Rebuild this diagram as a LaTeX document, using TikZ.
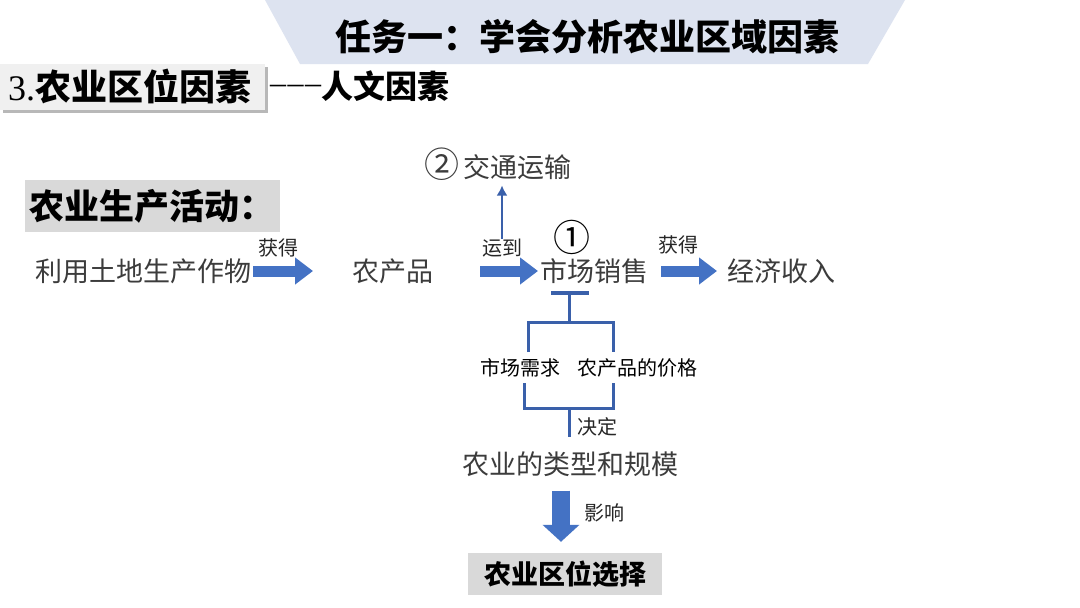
\documentclass[tikz,border=0pt]{standalone}
\usepackage{fontspec}
\setmainfont{Liberation Serif}
\newfontfamily\cjk{Noto Sans CJK SC}
\usetikzlibrary{arrows.meta,positioning}
\definecolor{mlblue}{RGB}{68,114,196}
\definecolor{mlline}{RGB}{58,96,170}
\definecolor{mlband}{RGB}{221,227,240}
\definecolor{mlgrey}{RGB}{217,217,217}
\definecolor{mltext}{RGB}{60,60,60}
\newcommand\fs[1]{\fontsize{#1}{#1}\selectfont}

\begin{document}
\begin{tikzpicture}[x=1pt,y=-1pt,every node/.style={inner sep=0pt},
    txt/.style={font=\cjk\fs{27},text=mltext},
    lbl/.style={font=\cjk\fs{20},text=black!85},
    fat/.style={line width=11pt,mlblue,-{Triangle[width=26pt,length=18pt]}},
    bracket/.style={line width=3pt,mlline}]
    \useasboundingbox[fill=white] (0,0) rectangle (1080,608);
    % title band
    \fill[mlband] (265,0) -- (905,0) -- (868,64) -- (300,64) -- cycle;
    \node[font=\cjk\bfseries\fs{36}] (title) at (587,37) {任务一：学会分析农业区域因素};
    % section heading
    \fill[black!28] (3,67) rectangle (268,113);
    \fill[black!6] (0,64) rectangle (265,110);
    \node[anchor=west,font=\fs{36}] (sec) at (8,86) {3.{\cjk\bfseries 农业区位因素}};
    \node[anchor=west,font=\fs{32}] (sub) at (270,86) {\raisebox{5pt}{\textendash\kern1.5pt\textendash\kern1.5pt\textendash}{\cjk\bfseries 人文因素}};
    \node[fill=mlgrey,minimum width=255pt,minimum height=52pt,font=\cjk\bfseries\fs{35}] (huodong) at (152.5,206) {农业生产活动：};
    % main row
    \node[txt,anchor=west] (zuowu) at (35,271) {利用土地生产作物};
    \node[txt,anchor=west] (ncp) at (352,271) {农产品};
    \node[txt,anchor=west] (xiaoshou) at (540,271) {市场销售};
    \node[txt,anchor=west] (shouru) at (727,271) {经济收入};
    \node[txt,anchor=west] (jiaotong) at (424,164) {{\fs{35}②}\,交通运输};
    \node[font=\cjk\fs{37}] (yi) at (572,237) {①};
    \node[lbl] (huode1) at (278,248) {获得};
    \node[lbl] (yundao) at (502,248) {运到};
    \node[lbl] (huode2) at (678,245) {获得};
    \draw[fat,shorten <=2pt,shorten >=39pt] (zuowu.east) -- (ncp.west);
    \draw[fat,shorten <=47pt,shorten >=2pt] (ncp.east) -- (xiaoshou.west);
    \draw[fat,shorten <=13pt,shorten >=10pt] (xiaoshou.east) -- (shouru.west);
    \draw[line width=2.5pt,mlline,-{Latex[length=10pt,width=11pt]},shorten >=5pt] (yundao.north) -- (yundao.north |- jiaotong.south);
    % market factors
    \node[lbl,text=black] (xuqiu) at (520,368) {市场需求};
    \node[lbl,text=black] (jiage) at (637.5,368) {农产品的价格};
    \draw[bracket,line width=4pt] (551,293) -- (589,293);
    \draw[bracket] (569,293) -- (569,322);
    \draw[bracket] (528,352) |- (613,322) -- (613,352);
    \draw[bracket] (524,383) |- (613,408) -- (613,383);
    \draw[bracket] (569,408) -- (569,437);
    \node[lbl] (jueding) at (597,427) {决定};
    \node[txt] (leixing) at (570,464) {农业的类型和规模};
    \node[fill=mlgrey,minimum width=194pt,minimum height=42pt,font=\cjk\bfseries\fs{27}] (xuanze) at (565,574) {农业区位选择};
    \draw[line width=18pt,mlblue,-{Triangle[width=36pt,length=17pt]},shorten <=14pt,shorten >=11pt] ([xshift=-9pt]leixing.south) -- ([xshift=-9pt]leixing.south |- xuanze.north);
    \node[lbl] (yingxiang) at (604,513) {影响};
\end{tikzpicture}
\end{document}
